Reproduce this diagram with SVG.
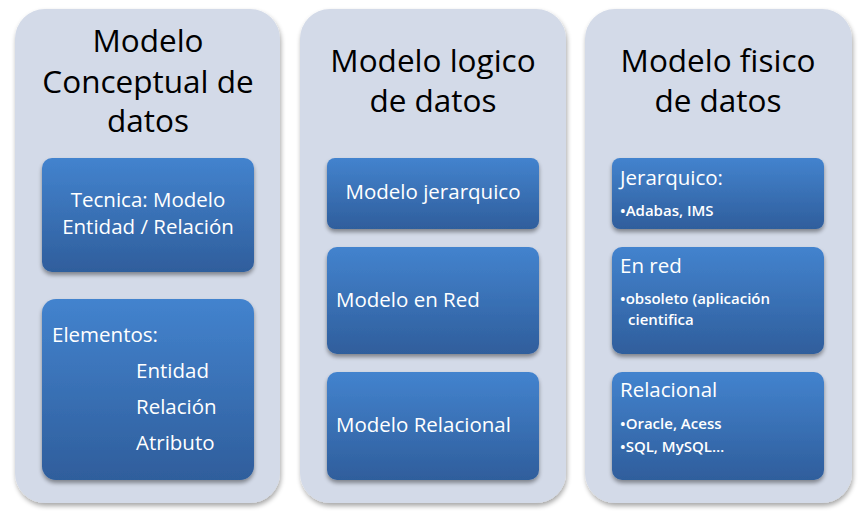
<svg xmlns="http://www.w3.org/2000/svg" width="862" height="514" viewBox="0 0 862 514">
<defs>
<linearGradient id="boxg" x1="0" y1="0" x2="0" y2="1">
<stop offset="0" stop-color="#4383CE"/>
<stop offset="1" stop-color="#2F5E9C"/>
</linearGradient>
<filter id="psh" x="-10%" y="-10%" width="125%" height="125%">
<feGaussianBlur in="SourceAlpha" stdDeviation="2.5"/>
<feOffset dx="1" dy="3"/>
<feComponentTransfer><feFuncA type="linear" slope="0.35"/></feComponentTransfer>
<feMerge><feMergeNode/><feMergeNode in="SourceGraphic"/></feMerge>
</filter>
<filter id="bsh" x="-10%" y="-10%" width="125%" height="130%">
<feGaussianBlur in="SourceAlpha" stdDeviation="2"/>
<feOffset dx="0" dy="3"/>
<feComponentTransfer><feFuncA type="linear" slope="0.4"/></feComponentTransfer>
<feMerge><feMergeNode/><feMergeNode in="SourceGraphic"/></feMerge>
</filter>
</defs>
<style>
.panel{fill:#D3DAE8;filter:url(#psh)}
.box{fill:url(#boxg);filter:url(#bsh)}
.title{font-family:"Open Sans","Noto Sans","Liberation Sans",sans-serif;font-size:31.5px;fill:#000;text-anchor:middle}
.t{font-family:"Open Sans","Noto Sans","Liberation Sans",sans-serif;font-size:20.5px;fill:#fff}
.s{font-family:"Open Sans","Noto Sans","Liberation Sans",sans-serif;font-size:15px;font-weight:600;fill:#fff}
.mid{text-anchor:middle}
</style>
<rect width="862" height="514" fill="#fff"/>

<g id="panel-conceptual">
<rect class="panel" x="15" y="9" width="265" height="494" rx="30"/>
<text class="title" x="148" y="52">Modelo</text>
<text class="title" x="148" y="93">Conceptual de</text>
<text class="title" x="148" y="132">datos</text>
</g>
<g id="panel-logico">
<rect class="panel" x="300" y="9" width="266" height="494" rx="30"/>
<text class="title" x="433" y="72">Modelo logico</text>
<text class="title" x="433" y="112">de datos</text>
</g>
<g id="panel-fisico">
<rect class="panel" x="585" y="9" width="267" height="494" rx="30"/>
<text class="title" x="718" y="72">Modelo fisico</text>
<text class="title" x="718" y="112">de datos</text>
</g>

<g id="node-tecnica">
<rect class="box" x="42" y="158" width="212" height="114" rx="10"/>
<text class="t mid" x="148" y="207">Tecnica: Modelo</text>
<text class="t mid" x="148" y="234">Entidad / Relación</text>
</g>
<g id="node-elementos">
<rect class="box" x="42" y="299" width="212" height="181" rx="14"/>
<text class="t" x="52" y="342">Elementos:</text>
<text class="t" x="136" y="378">Entidad</text>
<text class="t" x="136" y="414">Relación</text>
<text class="t" x="136" y="450">Atributo</text>
</g>

<g id="node-jerarquico">
<rect class="box" x="327" y="158" width="212" height="71" rx="8"/>
<text class="t mid" x="433" y="199">Modelo jerarquico</text>
</g>
<g id="node-red">
<rect class="box" x="327" y="247" width="212" height="107" rx="10"/>
<text class="t" x="336" y="307">Modelo en Red</text>
</g>
<g id="node-relacional">
<rect class="box" x="327" y="372" width="212" height="108" rx="10"/>
<text class="t" x="336" y="432">Modelo Relacional</text>
</g>

<g id="node-f-jerarquico">
<rect class="box" x="612" y="158" width="212" height="71" rx="8"/>
<text class="t" x="620" y="185">Jerarquico:</text>
<text class="s" x="620" y="216">•Adabas, IMS</text>
</g>
<g id="node-f-red">
<rect class="box" x="612" y="247" width="212" height="107" rx="10"/>
<text class="t" x="620" y="273">En red</text>
<text class="s" x="620" y="304">•obsoleto (aplicación</text>
<text class="s" x="628" y="325">cientifica</text>
</g>
<g id="node-f-relacional">
<rect class="box" x="612" y="372" width="212" height="108" rx="10"/>
<text class="t" x="620" y="397">Relacional</text>
<text class="s" x="620" y="429">•Oracle, Acess</text>
<text class="s" x="620" y="452">•SQL, MySQL…</text>
</g>

<g id="connectors"></g>
</svg>
